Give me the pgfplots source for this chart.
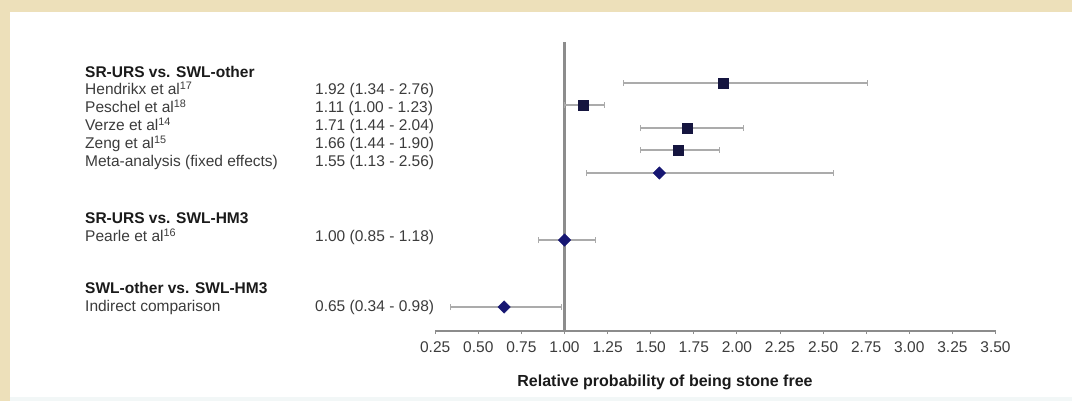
\documentclass[border=0pt]{standalone}
\usepackage{fontspec}
\setmainfont{Liberation Sans}
\usepackage{pgfplots}
\pgfplotsset{compat=1.18}
\usepackage{pgfplotstable}
\definecolor{beige}{HTML}{EDE0BA}
\definecolor{txt}{HTML}{3C3C3C}
\definecolor{hdr}{HTML}{1A1A1A}
\definecolor{sq}{HTML}{15153F}
\definecolor{dm}{HTML}{161672}
\definecolor{barc}{HTML}{ABABAB}
\definecolor{vline}{HTML}{8C8C8C}
\definecolor{bot}{HTML}{F2F7F7}

\pgfplotstableread{
x y xp xm
1.92 -83 0.84 0.58
1.11 -105 0.12 0.11
1.71 -128 0.33 0.27
1.66 -150 0.24 0.22
}\studies
\pgfplotstableread{
x y xp xm
1.55 -173 1.01 0.42
1.00 -240 0.18 0.15
0.65 -307 0.33 0.31
}\pooled

\newcommand{\fs}{\fontsize{15.5bp}{18bp}\selectfont}
\begin{document}
\begin{tikzpicture}
\fill[beige] (0,0) rectangle (1072bp,-401bp);
\fill[bot] (10bp,-12bp) rectangle (1072bp,-401bp);
\fill[white] (10bp,-12bp) rectangle (1072bp,-397bp);
\begin{axis}[
  x=172.4bp, y=1bp,
  xmin=0.25, xmax=3.5, ymin=-331, ymax=-40,
  enlargelimits=false, clip=false,
  anchor=south west, at={(435.2bp,-331bp)},
  axis x line*=bottom, axis y line=none,
  axis line style={vline, line width=1.5bp},
  xtick={0.25,0.5,0.75,1,1.25,1.5,1.75,2,2.25,2.5,2.75,3,3.25,3.5},
  xticklabels={0.25,0.50,0.75,1.00,1.25,1.50,1.75,2.00,2.25,2.50,2.75,3.00,3.25,3.50},
  tick align=outside, major tick length=3bp,
  tick style={vline, line width=1bp},
  xticklabel style={font=\fs, text=txt, yshift=-4bp},
]
\addplot[vline, line width=2.5bp] coordinates {(1,-42) (1,-331)};
\addplot[only marks, mark=square*, mark size=5bp, sq,
  error bars/.cd, x dir=both, x explicit,
  error bar style={barc, line width=1.6bp},
  error mark options={barc, line width=1bp, mark size=3bp, rotate=90}]
  table[x=x, y=y, x error plus=xp, x error minus=xm]{\studies};
\addplot[only marks, mark=square*, mark size=4.4bp, mark options={rotate=45}, dm,
  error bars/.cd, x dir=both, x explicit,
  error bar style={barc, line width=1.6bp},
  error mark options={barc, line width=1bp, mark size=3bp, rotate=90}]
  table[x=x, y=y, x error plus=xp, x error minus=xm]{\pooled};
\end{axis}
\begin{scope}[every node/.style={inner sep=0pt, font=\fs, text=txt}]
\node[anchor=base west, text=hdr, font=\fs\bfseries] at (85bp,-77.5bp) {SR-URS vs. SWL-other};
\node[anchor=base west] at (85bp,-94.5bp) {Hendrikx et al\textsuperscript{17}};
\node[anchor=base west] at (85bp,-112.5bp) {Peschel et al\textsuperscript{18}};
\node[anchor=base west] at (85bp,-130.5bp) {Verze et al\textsuperscript{14}};
\node[anchor=base west] at (85bp,-148.5bp) {Zeng et al\textsuperscript{15}};
\node[anchor=base west] at (85bp,-166.5bp) {Meta-analysis (fixed effects)};
\node[anchor=base west] at (315bp,-94.5bp) {1.92 (1.34 - 2.76)};
\node[anchor=base west] at (315bp,-112.5bp) {1.11 (1.00 - 1.23)};
\node[anchor=base west] at (315bp,-130.5bp) {1.71 (1.44 - 2.04)};
\node[anchor=base west] at (315bp,-148.5bp) {1.66 (1.44 - 1.90)};
\node[anchor=base west] at (315bp,-166.5bp) {1.55 (1.13 - 2.56)};
\node[anchor=base west, text=hdr, font=\fs\bfseries] at (85bp,-223.5bp) {SR-URS vs. SWL-HM3};
\node[anchor=base west] at (85bp,-241.5bp) {Pearle et al\textsuperscript{16}};
\node[anchor=base west] at (315bp,-241.5bp) {1.00 (0.85 - 1.18)};
\node[anchor=base west, text=hdr, font=\fs\bfseries] at (85bp,-293.5bp) {SWL-other vs. SWL-HM3};
\node[anchor=base west] at (85bp,-311.5bp) {Indirect comparison};
\node[anchor=base west] at (315bp,-311.5bp) {0.65 (0.34 - 0.98)};
\node[anchor=base, text=hdr, font=\fontsize{16bp}{18bp}\selectfont\bfseries] at (665bp,-386bp) {Relative probability of being stone free};
\end{scope}
\pgfresetboundingbox
\path[use as bounding box] (0,0) rectangle (1072bp,-401bp);
\end{tikzpicture}
\end{document}
